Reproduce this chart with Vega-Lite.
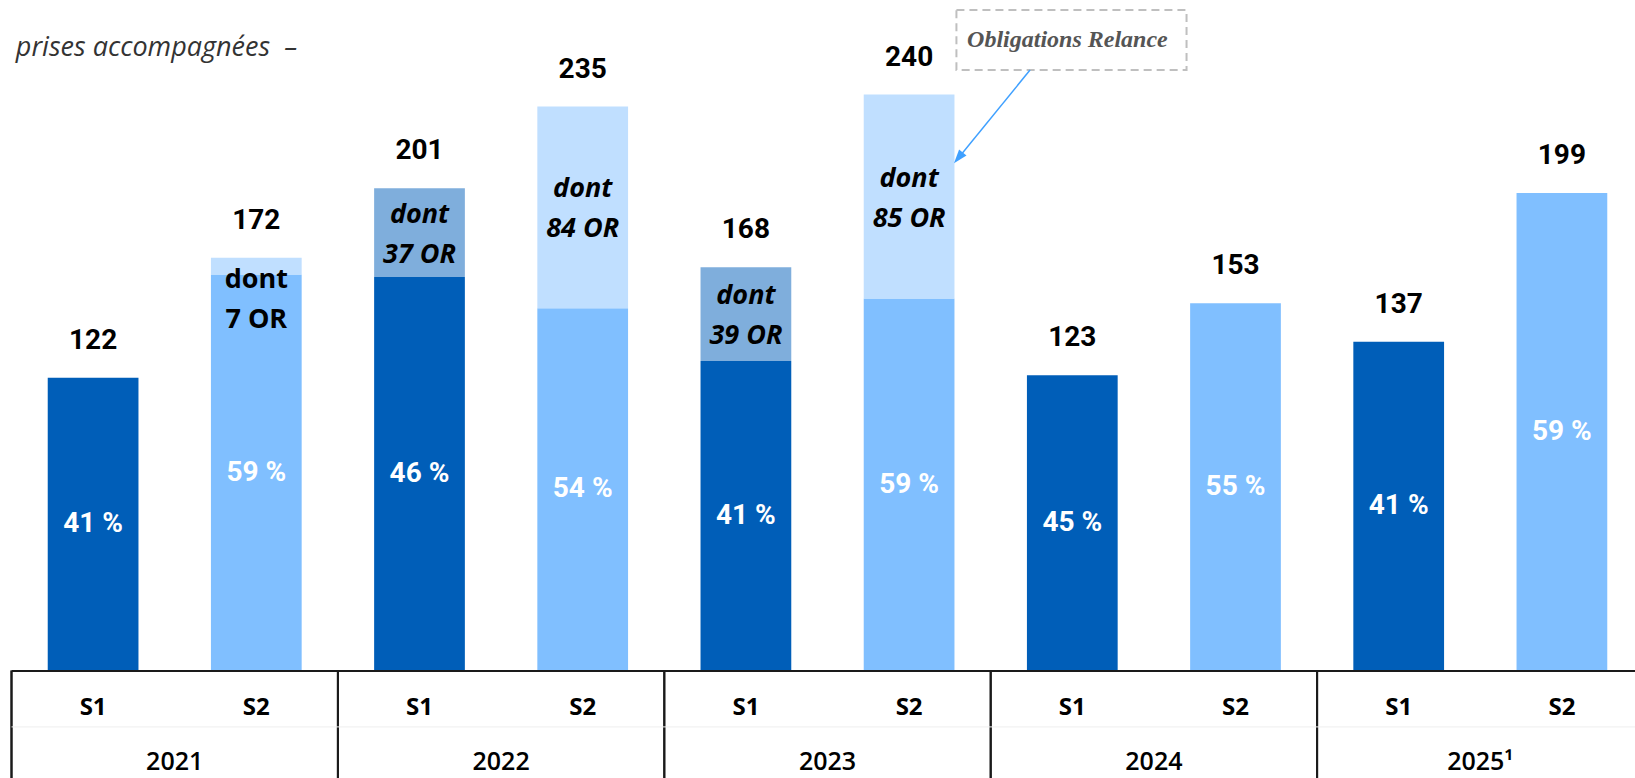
{
  "$schema": "https://vega.github.io/schema/vega-lite/v6.json",
  "width": 1635,
  "height": 670.5,
  "autosize": {"type": "none"},
  "padding": {"left": 0, "top": 0, "right": 0, "bottom": 107.5},
  "background": "white",
  "config": {"view": {"stroke": null}, "axis": {"grid": false}},
  "datasets": {
    "semesters": [
      {"period": "2021 S1", "year": "2021", "half": "S1", "total": 122, "or": 0, "base": 122, "pct": "41 %", "or_label": ""},
      {"period": "2021 S2", "year": "2021", "half": "S2", "total": 172, "or": 7, "base": 165, "pct": "59 %", "or_label": "dont\n7 OR"},
      {"period": "2022 S1", "year": "2022", "half": "S1", "total": 201, "or": 37, "base": 164, "pct": "46 %", "or_label": "dont\n37 OR"},
      {"period": "2022 S2", "year": "2022", "half": "S2", "total": 235, "or": 84, "base": 151, "pct": "54 %", "or_label": "dont\n84 OR"},
      {"period": "2023 S1", "year": "2023", "half": "S1", "total": 168, "or": 39, "base": 129, "pct": "41 %", "or_label": "dont\n39 OR"},
      {"period": "2023 S2", "year": "2023", "half": "S2", "total": 240, "or": 85, "base": 155, "pct": "59 %", "or_label": "dont\n85 OR"},
      {"period": "2024 S1", "year": "2024", "half": "S1", "total": 123, "or": 0, "base": 123, "pct": "45 %", "or_label": ""},
      {"period": "2024 S2", "year": "2024", "half": "S2", "total": 153, "or": 0, "base": 153, "pct": "55 %", "or_label": ""},
      {"period": "2025 S1", "year": "2025¹", "half": "S1", "total": 137, "or": 0, "base": 137, "pct": "41 %", "or_label": ""},
      {"period": "2025 S2", "year": "2025¹", "half": "S2", "total": 199, "or": 0, "base": 199, "pct": "59 %", "or_label": ""}
    ]
  },
  "resolve": {"scale": {"x": "independent", "y": "independent", "color": "independent"}},
  "layer": [
    {
      "data": {"name": "semesters"},
      "mark": {"type": "bar"},
      "encoding": {
        "x": {"field": "period", "type": "nominal", "sort": null,
          "scale": {"type": "band", "domain": ["2021 S1", "2021 S2", "2022 S1", "2022 S2", "2023 S1", "2023 S2", "2024 S1", "2024 S2", "2025 S1", "2025 S2"], "range": [11.5, 1643.5], "paddingInner": 0.444, "paddingOuter": 0.222},
          "axis": {"orient": "bottom", "title": null, "ticks": false, "labelAngle": 0,
            "labelExpr": "split(datum.value, ' ')[1]", "labelFont": "Open Sans", "labelFontWeight": "bold",
            "labelFontSize": 24, "labelColor": "#000000", "labelPadding": 36.5, "labelBaseline": "middle",
            "domainColor": "#1a1a1a", "domainWidth": 2, "zindex": 1}},
        "y": {"field": "base", "type": "quantitative", "scale": {"domain": [0, 279.4], "nice": false}, "axis": null},
        "color": {"field": "half", "type": "nominal", "scale": {"domain": ["S1", "S2"], "range": ["#005EB8", "#80BFFF"]}, "legend": null}
      }
    },
    {
      "data": {"name": "semesters"},
      "transform": [{"filter": "datum.or > 0"}],
      "mark": {"type": "bar"},
      "encoding": {
        "x": {"field": "period", "type": "nominal", "sort": null,
          "scale": {"type": "band", "domain": ["2021 S1", "2021 S2", "2022 S1", "2022 S2", "2023 S1", "2023 S2", "2024 S1", "2024 S2", "2025 S1", "2025 S2"], "range": [11.5, 1643.5], "paddingInner": 0.444, "paddingOuter": 0.222}, "axis": null},
        "y": {"field": "base", "type": "quantitative", "scale": {"domain": [0, 279.4], "nice": false}, "axis": null},
        "y2": {"field": "total"},
        "color": {"field": "half", "type": "nominal", "scale": {"domain": ["S1", "S2"], "range": ["#7FAEDC", "#C0DFFF"]}, "legend": null}
      }
    },
    {
      "data": {"name": "semesters"},
      "mark": {"type": "text", "baseline": "middle", "dy": -37, "font": "Roboto", "fontWeight": "bold", "fontSize": 28, "color": "#000000"},
      "encoding": {
        "x": {"field": "period", "type": "nominal", "sort": null,
          "scale": {"type": "band", "domain": ["2021 S1", "2021 S2", "2022 S1", "2022 S2", "2023 S1", "2023 S2", "2024 S1", "2024 S2", "2025 S1", "2025 S2"], "range": [11.5, 1643.5], "paddingInner": 0.444, "paddingOuter": 0.222}, "axis": null},
        "y": {"field": "total", "type": "quantitative", "scale": {"domain": [0, 279.4], "nice": false}, "axis": null},
        "text": {"field": "total", "type": "quantitative"}
      }
    },
    {
      "data": {"name": "semesters"},
      "mark": {"type": "text", "baseline": "middle", "font": "Roboto", "fontWeight": "bold", "fontSize": 28, "color": "#ffffff"},
      "encoding": {
        "x": {"field": "period", "type": "nominal", "sort": null,
          "scale": {"type": "band", "domain": ["2021 S1", "2021 S2", "2022 S1", "2022 S2", "2023 S1", "2023 S2", "2024 S1", "2024 S2", "2025 S1", "2025 S2"], "range": [11.5, 1643.5], "paddingInner": 0.444, "paddingOuter": 0.222}, "axis": null},
        "y": {"field": "base", "type": "quantitative", "scale": {"domain": [0, 558.8], "nice": false}, "axis": null},
        "text": {"field": "pct", "type": "nominal"}
      }
    },
    {
      "data": {"name": "semesters"},
      "transform": [{"filter": "datum.or >= 20"}, {"fold": ["total", "base"]}],
      "mark": {"type": "text", "baseline": "middle", "dy": -18, "lineBreak": "\n", "lineHeight": 40, "font": "Open Sans", "fontWeight": "bold", "fontStyle": "italic", "fontSize": 27, "color": "#000000"},
      "encoding": {
        "x": {"field": "period", "type": "nominal", "sort": null,
          "scale": {"type": "band", "domain": ["2021 S1", "2021 S2", "2022 S1", "2022 S2", "2023 S1", "2023 S2", "2024 S1", "2024 S2", "2025 S1", "2025 S2"], "range": [11.5, 1643.5], "paddingInner": 0.444, "paddingOuter": 0.222}, "axis": null},
        "y": {"aggregate": "mean", "field": "value", "type": "quantitative", "scale": {"domain": [0, 279.4], "nice": false}, "axis": null},
        "text": {"field": "or_label", "type": "nominal"}
      }
    },
    {
      "data": {"name": "semesters"},
      "transform": [{"filter": "datum.or > 0 && datum.or < 20"}],
      "mark": {"type": "text", "baseline": "middle", "dy": 22, "lineBreak": "\n", "lineHeight": 40, "font": "Open Sans", "fontWeight": "bold", "fontSize": 27, "color": "#000000"},
      "encoding": {
        "x": {"field": "period", "type": "nominal", "sort": null,
          "scale": {"type": "band", "domain": ["2021 S1", "2021 S2", "2022 S1", "2022 S2", "2023 S1", "2023 S2", "2024 S1", "2024 S2", "2025 S1", "2025 S2"], "range": [11.5, 1643.5], "paddingInner": 0.444, "paddingOuter": 0.222}, "axis": null},
        "y": {"field": "total", "type": "quantitative", "scale": {"domain": [0, 279.4], "nice": false}, "axis": null},
        "text": {"field": "or_label", "type": "nominal"}
      }
    },
    {
      "data": {"name": "semesters"},
      "mark": {"type": "rule", "color": "#1a1a1a", "strokeWidth": 2},
      "encoding": {
        "x": {"field": "year", "type": "nominal", "sort": null, "bandPosition": 0,
          "scale": {"type": "band", "domain": ["2021", "2022", "2023", "2024", "2025¹"], "range": [11.5, 1643.5], "paddingInner": 0, "paddingOuter": 0},
          "axis": {"orient": "bottom", "title": null, "ticks": false, "domain": false, "labelAngle": 0,
            "labelFont": "Open Sans", "labelFontWeight": 600, "labelFontSize": 25, "labelColor": "#000000",
            "labelPadding": 91, "labelBaseline": "middle"}},
        "y": {"datum": 0, "type": "quantitative", "scale": {"domain": [0, 279.4], "nice": false}, "axis": null},
        "y2": {"datum": -44.8}
      }
    },
    {
      "data": {"values": [{}]},
      "mark": {"type": "rule", "color": "#EEEEEE", "strokeWidth": 1},
      "encoding": {
        "x": {"datum": 0, "type": "quantitative", "scale": {"type": "linear", "domain": [0, 10], "range": [11.5, 1643.5], "nice": false, "zero": false}, "axis": null},
        "x2": {"datum": 10},
        "y": {"datum": -23.5, "type": "quantitative", "scale": {"domain": [0, 279.4], "nice": false}, "axis": null}
      }
    },
    {
      "data": {"values": [{}]},
      "mark": {"type": "rect", "fill": "#ffffff", "fillOpacity": 0, "stroke": "#BFBFBF", "strokeWidth": 2, "strokeDash": [8, 5]},
      "encoding": {
        "x": {"datum": 5.79, "type": "quantitative", "scale": {"type": "linear", "domain": [0, 10], "range": [11.5, 1643.5], "nice": false, "zero": false}, "axis": null},
        "x2": {"datum": 7.2},
        "y": {"datum": 275.2, "type": "quantitative", "scale": {"domain": [0, 279.4], "nice": false}, "axis": null},
        "y2": {"datum": 250.2}
      }
    },
    {
      "data": {"values": [{}]},
      "mark": {"type": "text", "text": "Obligations Relance", "align": "center", "baseline": "alphabetic", "font": "Liberation Serif", "fontStyle": "italic", "fontWeight": "bold", "fontSize": 24, "color": "#555555"},
      "encoding": {
        "x": {"datum": 6.47, "type": "quantitative", "scale": {"type": "linear", "domain": [0, 10], "range": [11.5, 1643.5], "nice": false, "zero": false}, "axis": null},
        "y": {"datum": 260, "type": "quantitative", "scale": {"domain": [0, 279.4], "nice": false}, "axis": null}
      }
    },
    {
      "data": {"values": [{}]},
      "mark": {"type": "rule", "color": "#3FA0FF", "strokeWidth": 1.5},
      "encoding": {
        "x": {"datum": 6.241, "type": "quantitative", "scale": {"type": "linear", "domain": [0, 10], "range": [11.5, 1643.5], "nice": false, "zero": false}, "axis": null},
        "x2": {"datum": 5.802},
        "y": {"datum": 250.2, "type": "quantitative", "scale": {"domain": [0, 279.4], "nice": false}, "axis": null},
        "y2": {"datum": 213.6}
      }
    },
    {
      "data": {"values": [{}]},
      "mark": {"type": "point", "shape": "M0,-1L0.68,1L-0.68,1Z", "filled": true, "color": "#3FA0FF", "opacity": 1, "size": 196, "angle": 219},
      "encoding": {
        "x": {"datum": 5.802, "type": "quantitative", "scale": {"type": "linear", "domain": [0, 10], "range": [11.5, 1643.5], "nice": false, "zero": false}, "axis": null},
        "y": {"datum": 213.6, "type": "quantitative", "scale": {"domain": [0, 279.4], "nice": false}, "axis": null}
      }
    },
    {
      "data": {"values": [{}]},
      "mark": {"type": "text", "text": "prises accompagnées \u00a0–", "align": "right", "baseline": "middle", "font": "Open Sans", "fontStyle": "italic", "fontSize": 27, "letterSpacing": 2.5, "color": "#333333"},
      "encoding": {
        "x": {"datum": 1.75, "type": "quantitative", "scale": {"type": "linear", "domain": [0, 10], "range": [11.5, 1643.5], "nice": false, "zero": false}, "axis": null},
        "y": {"datum": 259.2, "type": "quantitative", "scale": {"domain": [0, 279.4], "nice": false}, "axis": null}
      }
    }
  ]
}
